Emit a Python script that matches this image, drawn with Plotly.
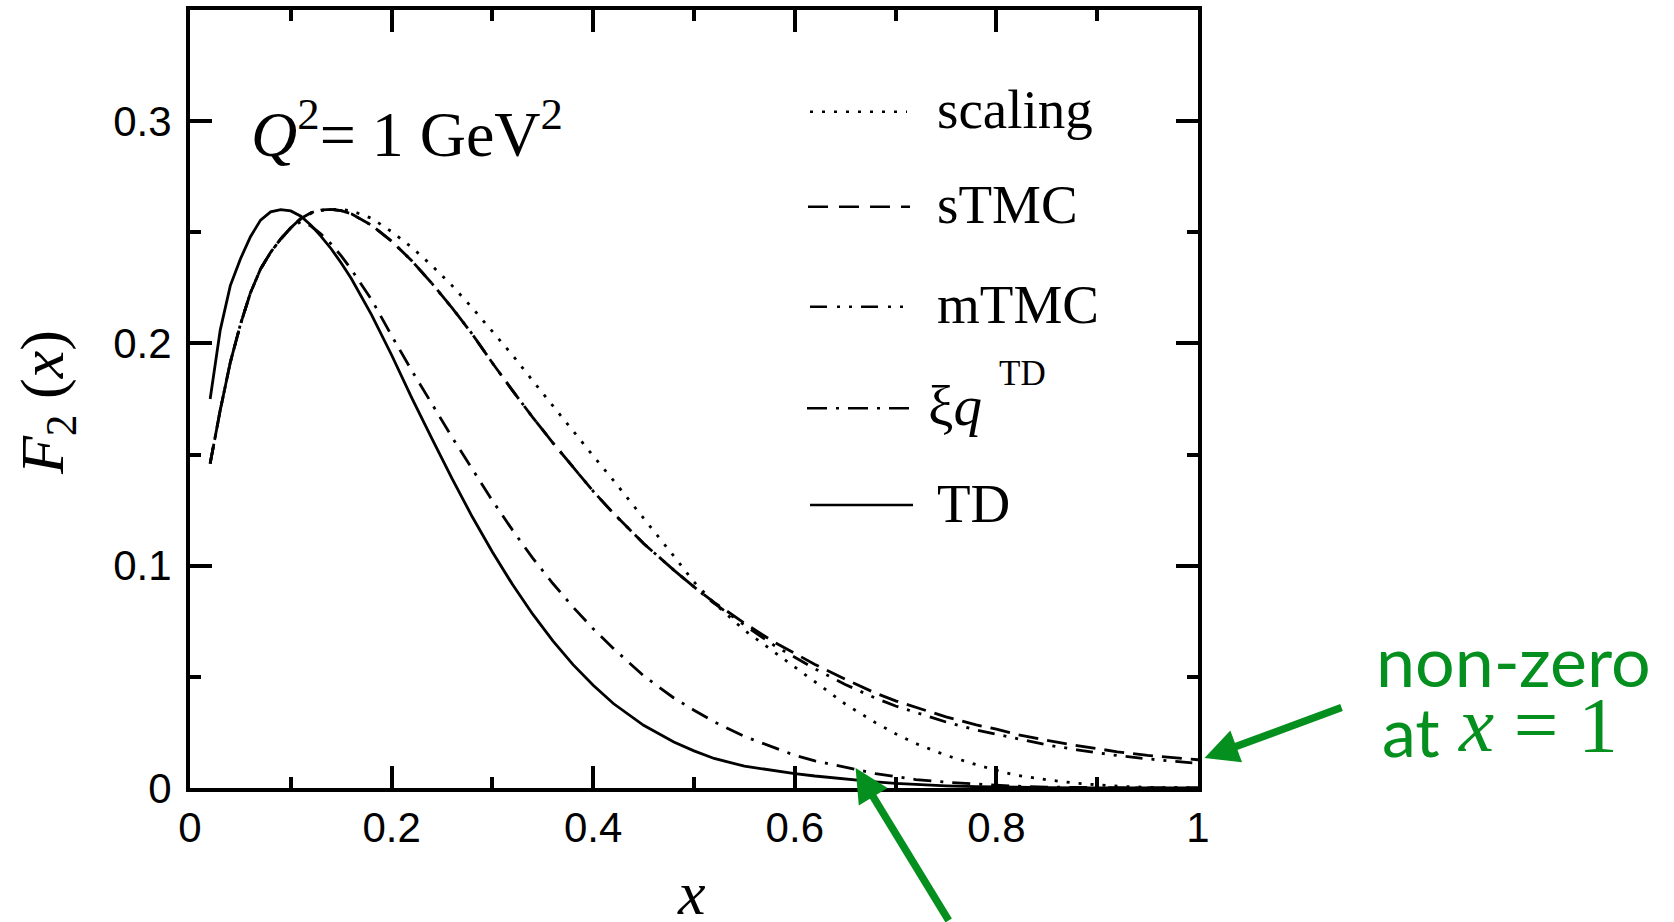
import plotly.graph_objects as go

# Bjorken x grid shared by all curves
x = [0.02, 0.03, 0.04, 0.05, 0.06, 0.07, 0.08, 0.09, 0.10, 0.11, 0.12, 0.13, 0.14, 0.15, 0.16,
     0.18, 0.20, 0.22, 0.24, 0.26, 0.28, 0.30, 0.32, 0.34, 0.36, 0.38, 0.40, 0.42,
     0.45, 0.48, 0.50, 0.52, 0.55, 0.58, 0.60, 0.62, 0.65, 0.68, 0.70, 0.72, 0.75,
     0.78, 0.80, 0.82, 0.85, 0.88, 0.90, 0.92, 0.95, 0.98, 1.00]

# F2(x) at Q^2 = 1 GeV^2
f2_scaling = [0.146, 0.170, 0.1915, 0.2085, 0.2228, 0.2335, 0.2410, 0.2470, 0.2520, 0.2560, 0.2585,
              0.2598, 0.2603, 0.2603, 0.2597, 0.2563, 0.2503, 0.2432, 0.2350, 0.2260, 0.2160,
              0.2055, 0.1947, 0.1832, 0.1718, 0.1603, 0.1494, 0.1384, 0.1216, 0.1043, 0.0927,
              0.0832, 0.0710, 0.0608, 0.0544, 0.0478, 0.0378, 0.0294, 0.0244, 0.0200, 0.0147,
              0.0105, 0.0079, 0.0057, 0.0037, 0.0021, 0.0014, 0.0008, 0.0003, 0.0001, 0.0]

f2_stmc = [0.146, 0.170, 0.1915, 0.2085, 0.2228, 0.2335, 0.2410, 0.2470, 0.2520, 0.2562, 0.2588,
           0.2600, 0.2603, 0.2597, 0.2583, 0.2532, 0.2460, 0.2372, 0.2270, 0.2160, 0.2042,
           0.1912, 0.1788, 0.1667, 0.1553, 0.1442, 0.1335, 0.1236, 0.1100, 0.0980, 0.0905,
           0.0835, 0.0742, 0.0655, 0.0605, 0.0556, 0.0489, 0.0427, 0.0392, 0.0362, 0.0320,
           0.0284, 0.0265, 0.0241, 0.0214, 0.0191, 0.0177, 0.0163, 0.0147, 0.0134, 0.0127]

f2_mtmc = [0.146, 0.170, 0.1915, 0.2085, 0.2228, 0.2335, 0.2410, 0.2470, 0.2520, 0.2562, 0.2588,
           0.2600, 0.2603, 0.2597, 0.2583, 0.2532, 0.2460, 0.2372, 0.2270, 0.2160, 0.2042,
           0.1912, 0.1788, 0.1667, 0.1553, 0.1442, 0.1335, 0.1236, 0.1100, 0.0980, 0.0903,
           0.0830, 0.0733, 0.0640, 0.0588, 0.0536, 0.0466, 0.0404, 0.0369, 0.0339, 0.0297,
           0.0261, 0.0242, 0.0220, 0.0194, 0.0172, 0.0159, 0.0146, 0.0131, 0.0118, 0.0111]

f2_xiq_td = [0.146, 0.170, 0.1915, 0.2085, 0.2228, 0.2335, 0.2410, 0.2470, 0.2520, 0.2548, 0.2528,
             0.2492, 0.2447, 0.2394, 0.2333, 0.2198, 0.2035, 0.1878, 0.1728, 0.1578, 0.1435,
             0.1293, 0.1160, 0.1034, 0.0920, 0.0814, 0.0716, 0.0628, 0.0505, 0.0405, 0.0350,
             0.0298, 0.0232, 0.0180, 0.0147, 0.0122, 0.0092, 0.0065, 0.0052, 0.0038, 0.0026,
             0.0017, 0.0012, 0.0008, 0.0004, 0.0002, 0.0001, 0.0, 0.0, 0.0, 0.0]

f2_td = [0.175, 0.206, 0.226, 0.238, 0.248, 0.2555, 0.2592, 0.2602, 0.2596, 0.2572, 0.2532,
         0.2482, 0.2426, 0.2362, 0.2292, 0.2130, 0.1948, 0.1755, 0.1572, 0.1392, 0.1220,
         0.1062, 0.0915, 0.0782, 0.0662, 0.0555, 0.0462, 0.0380, 0.0282, 0.0207, 0.0167,
         0.0133, 0.0098, 0.0077, 0.0065, 0.0054, 0.0040, 0.0028, 0.0021, 0.0016, 0.0010,
         0.0006, 0.0004, 0.0003, 0.0002, 0.0001, 0.0001, 0.0, 0.0, 0.0, 0.0]

x_ticks = [0, 0.2, 0.4, 0.6, 0.8, 1]
y_ticks = [0, 0.1, 0.2, 0.3]

series = [
    ("scaling", f2_scaling, "3px,9px"),
    ("sTMC", f2_stmc, "20px,9px"),
    ("mTMC", f2_mtmc, "17px,9px,3px,9px,3px,9px"),
    ("ξq<sup>TD</sup>", f2_xiq_td, "18px,9px,3px,9px"),
    ("TD", f2_td, "solid"),
]

SERIF = "Liberation Serif, Times New Roman, serif"
SANS = "Liberation Sans, Arial, sans-serif"
GREEN = "#058f1e"

W, H = 1674, 922
L, R, T, B = 190, 1198, 10, 788


def fx(px):
    return (px - L) / (R - L)


def fy(py):
    return (B - py) / (B - T)


fig = go.Figure()
for name, vals, dash in series:
    fig.add_trace(go.Scatter(x=x, y=vals, mode="lines", name=name, showlegend=False,
                             line=dict(color="black", width=2.8, dash=dash)))

axis_common = dict(
    showline=True, linecolor="black", linewidth=4, mirror="allticks",
    ticks="inside", ticklen=22, tickwidth=4, tickcolor="black",
    showgrid=False, zeroline=False, automargin=False,
    tickfont=dict(family=SANS, size=42, color="black"),
)

fig.update_xaxes(range=[0, 1], tickvals=x_ticks, ticktext=[f"{v:g}" for v in x_ticks],
                 minor=dict(dtick=0.1, ticks="inside", ticklen=11, tickwidth=4, tickcolor="black",
                            showgrid=False),
                 **axis_common)
fig.update_yaxes(range=[0, 0.35], tickvals=y_ticks, ticktext=[f"{v:g}" for v in y_ticks],
                 ticklabelstandoff=6,
                 minor=dict(dtick=0.05, ticks="inside", ticklen=11, tickwidth=4, tickcolor="black",
                            showgrid=False),
                 **axis_common)

annotations = []
shapes = []

# in-plot legend: line samples and labels
legend_rows = [
    (111.7, "scaling", "3px,9px", 810, 907),
    (206.7, "sTMC", "20px,11px", 808, 910),
    (306.7, "mTMC", "17px,10px,3px,9px,3px,9px", 810, 907),
    (408.3, None, "20px,9px,3px,9px", 807, 910),
    (505.0, "TD", "solid", 810, 913),
]
for yy, label, dash, x0, x1 in legend_rows:
    shapes.append(dict(type="line", xref="paper", yref="paper",
                       x0=fx(x0), x1=fx(x1), y0=fy(yy), y1=fy(yy),
                       line=dict(color="black", width=2.6, dash=dash)))
    if label:
        annotations.append(dict(text=label, xref="paper", yref="paper", x=fx(935), y=fy(yy - 2),
                                xanchor="left", yanchor="middle", showarrow=False,
                                font=dict(family=SERIF, size=55, color="black")))
annotations.append(dict(text="ξ<i>q</i>", xref="paper", yref="paper", x=fx(926), y=fy(406),
                        xanchor="left", yanchor="middle", showarrow=False,
                        font=dict(family=SERIF, size=57, color="black")))
annotations.append(dict(text="TD", xref="paper", yref="paper", x=fx(997), y=fy(373),
                        xanchor="left", yanchor="middle", showarrow=False,
                        font=dict(family=SERIF, size=35, color="black")))

# kinematics label
annotations.append(dict(text="<i>Q</i><sup>2</sup>= 1 GeV<sup>2</sup>", xref="paper", yref="paper",
                        x=fx(249), y=fy(129), xanchor="left", yanchor="middle", showarrow=False,
                        font=dict(family=SERIF, size=64, color="black")))

# axis titles
annotations.append(dict(text="<i>F</i><sub>2</sub> (<i>x</i>)", xref="paper", yref="paper",
                        x=fx(46), y=fy(403), xanchor="center", yanchor="middle", textangle=-90,
                        showarrow=False, font=dict(family=SERIF, size=62, color="black")))
annotations.append(dict(text="<i>x</i>", xref="paper", yref="paper",
                        x=fx(691), y=fy(893), xanchor="center", yanchor="middle",
                        showarrow=False, font=dict(family=SERIF, size=62, color="black")))

# green callouts
annotations.append(dict(text="non-zero", xref="paper", yref="paper", x=fx(1374), y=fy(660),
                        xanchor="left", yanchor="middle", showarrow=False,
                        font=dict(family="Lato, Open Sans, sans-serif", size=70, color=GREEN)))
annotations.append(dict(text="at", xref="paper", yref="paper", x=fx(1380), y=fy(730),
                        xanchor="left", yanchor="middle", showarrow=False,
                        font=dict(family="Lato, Open Sans, sans-serif", size=68, color=GREEN)))
annotations.append(dict(text="<i>x</i> = 1", xref="paper", yref="paper", x=fx(1456), y=fy(724),
                        xanchor="left", yanchor="middle", showarrow=False,
                        font=dict(family=SERIF, size=79, color=GREEN)))

annotations.append(dict(text="", xref="paper", yref="paper", x=fx(1204.5), y=fy(758),
                        ax=138.5, ay=-51, showarrow=True, arrowhead=2, arrowsize=0.9,
                        arrowwidth=7.5, arrowcolor=GREEN, standoff=0))
annotations.append(dict(text="", xref="paper", yref="paper", x=fx(855.6), y=fy(768),
                        ax=94, ay=175, showarrow=True, arrowhead=2, arrowsize=0.9,
                        arrowwidth=7.5, arrowcolor=GREEN, standoff=0))

fig.update_layout(
    width=W, height=H,
    margin=dict(l=L, r=W - R, t=T, b=H - B, pad=0),
    paper_bgcolor="white", plot_bgcolor="white",
    showlegend=False,
    annotations=annotations, shapes=shapes,
)

fig.write_html("out.html")
